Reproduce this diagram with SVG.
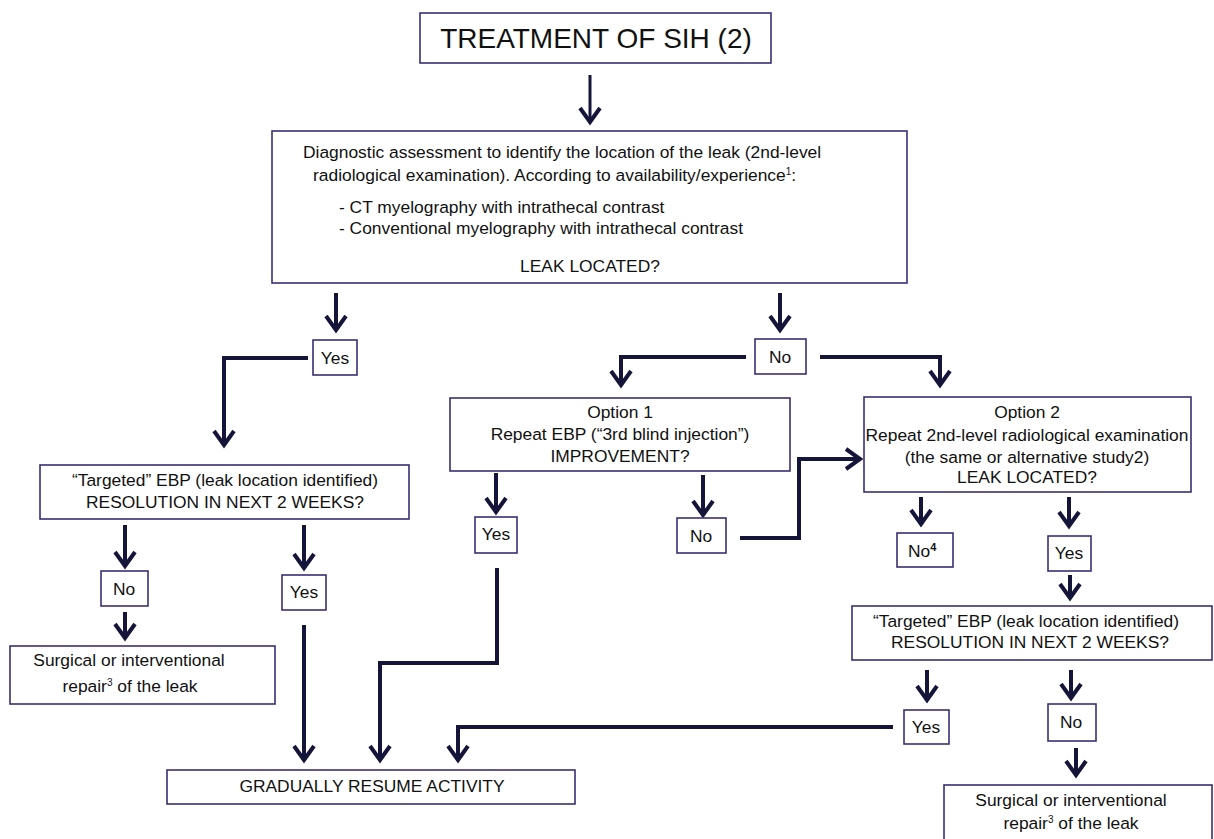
<svg xmlns="http://www.w3.org/2000/svg" width="1214" height="839" viewBox="0 0 1214 839">
<style>
.box{fill:#fff;stroke:#3b2d72;stroke-width:1.6}
.t{font-family:"Liberation Sans",Arial,sans-serif;font-size:17.4px;fill:#111}
.m{text-anchor:middle}
.c{fill:none;stroke:#15153a;stroke-width:4;marker-end:url(#ah)}
.thin{stroke-width:3}
.sup{font-size:10px}
</style>
<defs>
<marker id="ah" markerUnits="userSpaceOnUse" markerWidth="40" markerHeight="40" viewBox="-20 -20 40 40" refX="0" refY="0" orient="auto" overflow="visible">
<path d="M-14 -10 L0 0 L-14 10" fill="none" stroke="#15153a" stroke-width="4"/>
</marker>
</defs>
<rect width="1214" height="839" fill="#fff"/>

<g id="connectors">
<path class="c thin" d="M590 75 V122"/>
<path class="c" d="M336 293 V330"/>
<path class="c" d="M780 293 V330"/>
<path class="c" d="M308 358 H224 V445"/>
<path class="c" d="M746 357 H621 V385"/>
<path class="c" d="M820 357 H940 V385"/>
<path class="c" d="M125 525 V566"/>
<path class="c" d="M304 525 V568"/>
<path class="c" d="M125 612 V638"/>
<path class="c" d="M304 625 V760"/>
<path class="c" d="M496 473 V512"/>
<path class="c" d="M703 475 V515"/>
<path class="c" d="M740 538 H799 V459 H860"/>
<path class="c" d="M497 568 V663 H380 V760"/>
<path class="c" d="M921 497 V524"/>
<path class="c" d="M1069 497 V526"/>
<path class="c" d="M1070 575 V598"/>
<path class="c" d="M927 670 V700"/>
<path class="c" d="M1071 670 V698"/>
<path class="c" d="M1076 748 V775"/>
<path class="c" d="M893 727 H458 V760"/>
</g>

<g id="title">
<rect class="box" x="420" y="13" width="351" height="50"/>
<text class="t m" x="596" y="48" style="font-size:28px">TREATMENT OF SIH (2)</text>
</g>

<g id="diagnostic">
<rect class="box" x="272" y="131" width="635" height="152"/>
<text class="t" x="303" y="158">Diagnostic assessment to identify the location of the leak (2nd-level</text>
<text class="t" x="313" y="181">radiological examination). According to availability/experience<tspan class="sup" dy="-6">1</tspan><tspan dy="6">:</tspan></text>
<text class="t" x="339" y="213">- CT myelography with intrathecal contrast</text>
<text class="t" x="339" y="234">- Conventional myelography with intrathecal contrast</text>
<text class="t m" x="590" y="272">LEAK LOCATED?</text>
</g>

<g id="yes1">
<rect class="box" x="313" y="340" width="44" height="35"/>
<text class="t m" x="335" y="364">Yes</text>
</g>

<g id="no1">
<rect class="box" x="755" y="339" width="51" height="35"/>
<text class="t m" x="780" y="363">No</text>
</g>

<g id="targeted-left">
<rect class="box" x="40" y="465" width="369" height="54"/>
<text class="t m" x="225" y="486">“Targeted” EBP (leak location identified)</text>
<text class="t m" x="225" y="508">RESOLUTION IN NEXT 2 WEEKS?</text>
</g>

<g id="option1">
<rect class="box" x="450" y="398" width="340" height="73"/>
<text class="t m" x="620" y="418">Option 1</text>
<text class="t m" x="620" y="440">Repeat EBP (“3rd blind injection”)</text>
<text class="t m" x="620" y="462">IMPROVEMENT?</text>
</g>

<g id="option2">
<rect class="box" x="864" y="397" width="327" height="95"/>
<text class="t m" x="1027" y="418">Option 2</text>
<text class="t m" x="1027" y="441">Repeat 2nd-level radiological examination</text>
<text class="t m" x="1027" y="463">(the same or alternative study2)</text>
<text class="t m" x="1027" y="483">LEAK LOCATED?</text>
</g>

<g id="no-left">
<rect class="box" x="101" y="571" width="47" height="35"/>
<text class="t m" x="124" y="595">No</text>
</g>

<g id="yes-left">
<rect class="box" x="282" y="575" width="44" height="35"/>
<text class="t m" x="304" y="598">Yes</text>
</g>

<g id="surgical-left">
<rect class="box" x="10" y="646" width="265" height="58"/>
<text class="t m" x="129" y="666">Surgical or interventional</text>
<text class="t m" x="130" y="692">repair<tspan class="sup" dy="-6">3</tspan><tspan dy="6"> of the leak</tspan></text>
</g>

<g id="yes-opt1">
<rect class="box" x="475" y="517" width="42" height="36"/>
<text class="t m" x="496" y="540">Yes</text>
</g>

<g id="no-opt1">
<rect class="box" x="677" y="518" width="49" height="35"/>
<text class="t m" x="701" y="542">No</text>
</g>

<g id="no-opt2">
<rect class="box" x="897" y="533" width="56" height="34"/>
<text class="t" x="908" y="557">No<tspan dy="-6" style="font-size:11px;font-weight:bold">4</tspan></text>
</g>

<g id="yes-opt2">
<rect class="box" x="1048" y="536" width="43" height="35"/>
<text class="t m" x="1069" y="559">Yes</text>
</g>

<g id="targeted-right">
<rect class="box" x="852" y="606" width="360" height="54"/>
<text class="t m" x="1026" y="627">“Targeted” EBP (leak location identified)</text>
<text class="t m" x="1030" y="648">RESOLUTION IN NEXT 2 WEEKS?</text>
</g>

<g id="yes-right">
<rect class="box" x="904" y="710" width="45" height="34"/>
<text class="t m" x="926" y="733">Yes</text>
</g>

<g id="no-right">
<rect class="box" x="1048" y="704" width="48" height="37"/>
<text class="t m" x="1071" y="728">No</text>
</g>

<g id="surgical-right">
<rect class="box" x="944" y="785" width="268" height="60"/>
<text class="t m" x="1071" y="806">Surgical or interventional</text>
<text class="t m" x="1071" y="829">repair<tspan class="sup" dy="-6">3</tspan><tspan dy="6"> of the leak</tspan></text>
</g>

<g id="resume">
<rect class="box" x="167" y="770" width="408" height="34"/>
<text class="t m" x="372" y="792">GRADUALLY RESUME ACTIVITY</text>
</g>
</svg>
